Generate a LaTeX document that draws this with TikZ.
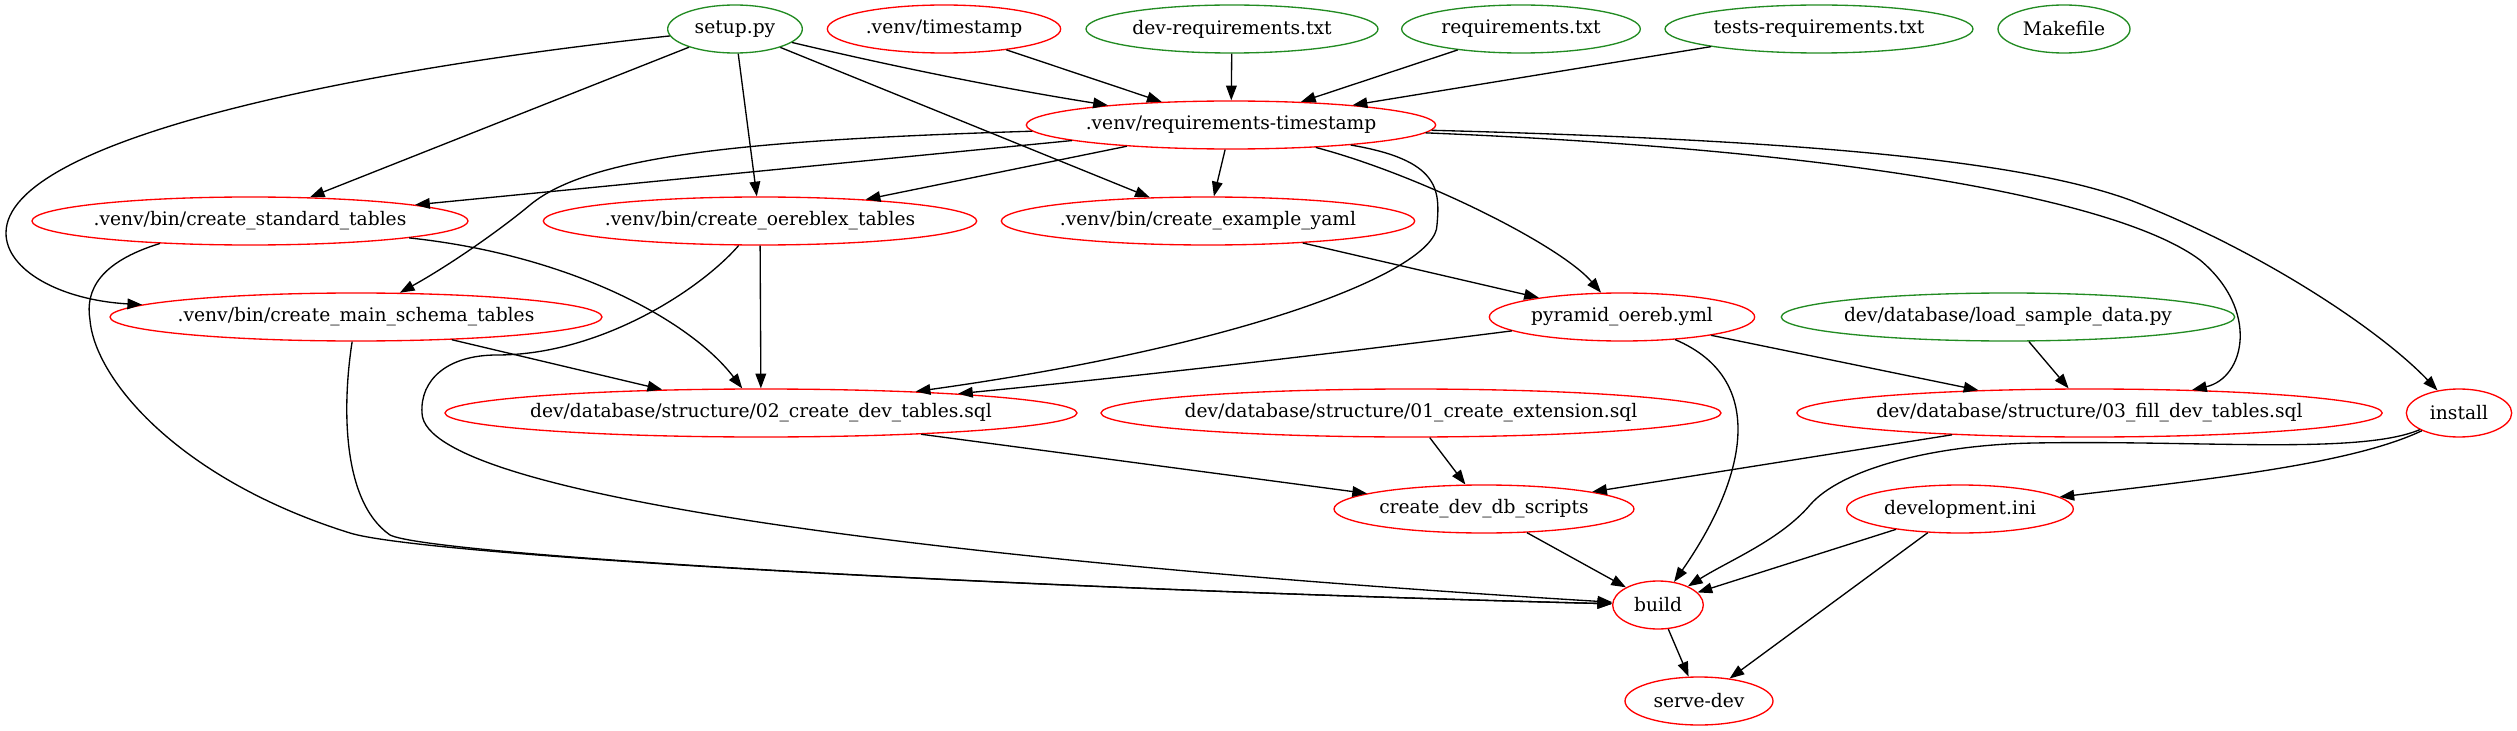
\documentclass[tikz,border=0pt]{standalone}
\usepackage{fontspec}
\setmainfont{DejaVu Serif}
\usetikzlibrary{shapes.geometric, arrows.meta}

\definecolor{forestgreen}{RGB}{34,139,34}

\tikzset{
  file/.style={ellipse, draw, line width=1pt, minimum height=36pt, inner sep=0pt,
    font=\fontsize{14}{17}\selectfont,
    execute at begin node={\hbox to 0pt\bgroup\hss},
    execute at end node={\hss\egroup}},
  srcfile/.style={file, draw=forestgreen},
  mkfile/.style={file, draw=red},
  dep/.style={line width=1pt, -{Triangle[length=11pt, width=8pt]}},
}

\begin{document}
\begin{tikzpicture}[x=0.75pt, y=-0.75pt]
  \useasboundingbox (0, 0) rectangle (2517, 731);

  \node[srcfile, minimum width=101pt] (setup) at (735, 29) {setup.py};
  \node[mkfile, minimum width=175pt] (venvts) at (944, 29) {.venv/timestamp};
  \node[srcfile, minimum width=219pt] (devreq) at (1232, 29) {dev-requirements.txt};
  \node[srcfile, minimum width=179pt] (req) at (1521, 29) {requirements.txt};
  \node[srcfile, minimum width=231pt] (testreq) at (1819, 29) {tests-requirements.txt};
  \node[srcfile, minimum width=99pt] (makefile) at (2064, 29) {Makefile};

  \node[mkfile, minimum width=307pt] (reqts) at (1231, 125) {.venv/requirements-timestamp};

  \node[mkfile, minimum width=327pt] (stdtables) at (250, 221) {.venv/bin/create\_standard\_tables};
  \node[mkfile, minimum width=325pt] (oereblex) at (760, 221) {.venv/bin/create\_oereblex\_tables};
  \node[mkfile, minimum width=310pt] (exyaml) at (1208, 221) {.venv/bin/create\_example\_yaml};

  \node[mkfile, minimum width=369pt] (mainschema) at (356, 317) {.venv/bin/create\_main\_schema\_tables};
  \node[mkfile, minimum width=199pt] (pyramid) at (1622, 317) {pyramid\_oereb.yml};
  \node[srcfile, minimum width=340pt] (loadsample) at (2008, 317) {dev/database/load\_sample\_data.py};

  \node[mkfile, minimum width=474pt] (createdev) at (761, 413) {dev/database/structure/02\_create\_dev\_tables.sql};
  \node[mkfile, minimum width=465pt] (createext) at (1411, 413) {dev/database/structure/01\_create\_extension.sql};
  \node[mkfile, minimum width=439pt] (filldev) at (2089.5, 413) {dev/database/structure/03\_fill\_dev\_tables.sql};
  \node[mkfile, minimum width=79pt] (install) at (2459, 413) {install};

  \node[mkfile, minimum width=225pt] (dbscripts) at (1484, 509) {create\_dev\_db\_scripts};
  \node[mkfile, minimum width=170pt] (devini) at (1960, 509) {development.ini};

  \node[mkfile, minimum width=68pt] (build) at (1658, 605) {build};
  \node[mkfile, minimum width=111pt] (servedev) at (1699, 701) {serve-dev};

  % inputs of the requirements timestamp
  \draw[dep] (setup) .. controls (900, 68) and (1000, 88) .. (reqts);
  \draw[dep] (venvts) -- (reqts);
  \draw[dep] (devreq) -- (reqts);
  \draw[dep] (req) -- (reqts);
  \draw[dep] (testreq) -- (reqts);

  % setup.py
  \draw[dep] (setup) -- (stdtables);
  \draw[dep] (setup) -- (oereblex);
  \draw[dep] (setup) -- (exyaml);
  \draw[dep] (setup) .. controls (350, 70) and (6, 140) .. (6, 233) .. controls (6, 270) and (60, 300) .. (mainschema);

  % requirements timestamp
  \draw[dep] (reqts) -- (stdtables);
  \draw[dep] (reqts) .. controls (750, 140) and (590, 155) .. (530, 205) .. controls (500, 230) and (450, 265) .. (mainschema);
  \draw[dep] (reqts) -- (oereblex);
  \draw[dep] (reqts) -- (exyaml);
  \draw[dep] (reqts) .. controls (1420, 175) and (1560, 245) .. (pyramid);
  \draw[dep] (reqts) .. controls (1440, 160) and (1440, 190) .. (1437, 225) .. controls (1437, 270) and (1250, 345) .. (createdev);
  \draw[dep] (reqts) .. controls (1850, 150) and (2120, 200) .. (2200, 260) .. controls (2260, 310) and (2245, 378) .. (filldev);
  \draw[dep] (reqts) .. controls (1800, 140) and (2020, 160) .. (2130, 200) .. controls (2260, 250) and (2380, 330) .. (install);

  % bin scripts
  \draw[dep] (stdtables) .. controls (570, 255) and (690, 320) .. (createdev);
  \draw[dep] (stdtables.194) .. controls (100, 262) and (85, 290) .. (90, 320) .. controls (95, 380) and (180, 480) .. (350, 533) .. controls (420, 555) and (1000, 588) .. (build);
  \draw[dep] (oereblex) -- (createdev);
  \draw[dep] (oereblex) .. controls (700, 290) and (600, 355) .. (497, 355) .. controls (447, 355) and (420, 380) .. (422, 413) .. controls (424, 500) and (1000, 565) .. (build);
  \draw[dep] (exyaml) -- (pyramid);
  \draw[dep] (mainschema) -- (createdev);
  \draw[dep] (mainschema) .. controls (343, 400) and (340, 500) .. (390, 535) .. controls (430, 555) and (1000, 588) .. (build);
  \draw[dep] (pyramid) .. controls (1400, 345) and (1200, 370) .. (createdev);
  \draw[dep] (pyramid) -- (filldev);
  \draw[dep] (pyramid) .. controls (1770, 380) and (1745, 480) .. (build);
  \draw[dep] (loadsample) -- (filldev);

  % sql scripts
  \draw[dep] (createdev) -- (dbscripts);
  \draw[dep] (createext) -- (dbscripts);
  \draw[dep] (filldev) -- (dbscripts);
  \draw[dep] (install) .. controls (2350, 465) and (2200, 480) .. (devini);
  \draw[dep] (install) .. controls (2360, 455) and (2200, 440) .. (2034, 443) .. controls (1930, 445) and (1840, 470) .. (1810, 505) .. controls (1780, 540) and (1730, 560) .. (build);

  \draw[dep] (dbscripts) -- (build);
  \draw[dep] (devini) -- (build);
  \draw[dep] (devini) -- (servedev);
  \draw[dep] (build) -- (servedev);
\end{tikzpicture}
\end{document}
